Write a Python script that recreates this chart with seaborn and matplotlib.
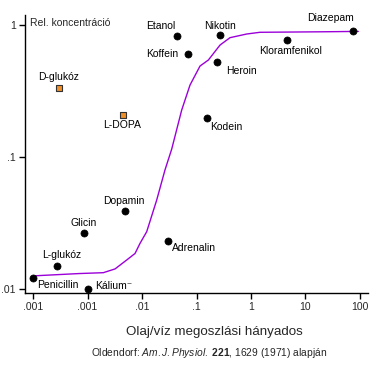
import matplotlib
matplotlib.use("Agg")
import matplotlib.pyplot as plt
import seaborn as sns
import pandas as pd

# ---- data ----
names = ["Etanol", "Koffein", "Nikotin", "Diazepam", "Kloramfenikol", "Heroin",
         "Kodein", "Dopamin", "Glicin", "L-glukóz", "Penicillin", "Kálium⁻",
         "Adrenalin", "D-glukóz", "L-DOPA"]
partition = [0.0433, 0.0698, 0.27, 75.4, 4.64, 0.241,
             0.154, 0.00494, 0.000873, 0.000279, 0.0001, 0.001,
             0.0304, 0.000304, 0.00441]
concentration = [0.826, 0.603, 0.835, 0.895, 0.765, 0.525,
                 0.196, 0.039, 0.0266, 0.01486, 0.0122, 0.01,
                 0.0231, 0.333, 0.208]
group = ["passive"] * 13 + ["carrier"] * 2

curve_x = [0.000109, 0.000698, 0.00195, 0.0032, 0.00524, 0.00745, 0.0092, 0.0122,
           0.0186, 0.0264, 0.0351, 0.0535, 0.076, 0.116, 0.165, 0.27, 0.412,
           0.834, 1.46, 21.2, 93.1]
curve_y = [0.0126, 0.0131, 0.0133, 0.0142, 0.0166, 0.0186, 0.0222, 0.0272,
           0.0472, 0.0798, 0.115, 0.227, 0.351, 0.489, 0.543, 0.705, 0.802,
           0.855, 0.881, 0.889, 0.895]

xticks = [0.0001, 0.001, 0.01, 0.1, 1, 10, 100]
xticklabels = [".001", ".001", ".01", ".1", "1", "10", "100"]
yticks = [0.01, 0.1, 1]
yticklabels = [".01", ".1", "1"]

# label offsets in pixels (dx, dy) and alignment
label_pos = {
    "Etanol": (-16, 10, "center"), "Koffein": (-26, 0, "center"),
    "Nikotin": (0, 9, "center"), "Diazepam": (-23, 13, "center"),
    "Kloramfenikol": (3, -11, "center"), "Heroin": (24, -9, "center"),
    "Kodein": (20, -9, "center"), "Dopamin": (-2, 10, "center"),
    "Glicin": (-1, 10, "center"), "L-glukóz": (4, 11, "center"),
    "Penicillin": (25, -7, "center"), "Kálium⁻": (8, 3, "left"),
    "Adrenalin": (26, -7, "center"), "D-glukóz": (-1, 11, "center"),
    "L-DOPA": (-1, -10, "center"),
}

df = pd.DataFrame({"name": names, "x": partition, "y": concentration, "group": group})
curve = pd.DataFrame({"x": curve_x, "y": curve_y})

sns.set_style("white")
plt.rcParams["font.family"] = ["Liberation Sans", "DejaVu Sans"]
plt.rcParams["mathtext.fontset"] = "custom"
plt.rcParams["mathtext.rm"] = "Liberation Sans"
plt.rcParams["mathtext.it"] = "Liberation Sans:italic"
plt.rcParams["mathtext.bf"] = "Liberation Sans:bold"

fig = plt.figure(figsize=(3.88, 3.74), dpi=100)
W, H = 388, 374
ax = fig.add_axes([25 / W, (H - 293) / H, (368 - 25) / W, (293 - 15) / H])

sns.lineplot(data=curve, x="x", y="y", ax=ax, color="#9B00D9", lw=1.0, sort=False)
sns.scatterplot(data=df[df.group == "passive"], x="x", y="y", ax=ax, color="black",
                s=26, edgecolor="black", linewidth=0.5, zorder=5)
sns.scatterplot(data=df[df.group == "carrier"], x="x", y="y", ax=ax, color="#F0902A",
                marker="s", s=17, edgecolor="#333333", linewidth=0.8, zorder=5)

ax.set_xscale("log")
ax.set_yscale("log")
ax.set_xlim(10 ** -4.147, 10 ** 2.147)
ax.set_ylim(10 ** -2.03, 10 ** 0.076)
ax.set_xticks(xticks)
ax.set_xticklabels(xticklabels)
ax.set_yticks(yticks)
ax.set_yticklabels(yticklabels)
ax.minorticks_off()
ax.tick_params(axis="both", which="major", direction="out", length=4.5, width=1,
               color="black", labelsize=7.5, pad=2, bottom=True, left=True)
for s in ["top", "right"]:
    ax.spines[s].set_visible(False)
for s in ["left", "bottom"]:
    ax.spines[s].set_color("black")
    ax.spines[s].set_linewidth(1)
ax.set_xlabel("")
ax.set_ylabel("")

for n, xv, yv in zip(names, partition, concentration):
    dx, dy, ha = label_pos[n]
    ax.annotate(n, (xv, yv), xytext=(dx, dy), textcoords="offset pixels",
                ha=ha, va="center", fontsize=7.5, color="black", zorder=6)

ax.text(5 / 343, 1 - 3 / 278, "Rel. koncentráció", transform=ax.transAxes,
        ha="left", va="top", fontsize=7.5)

fig.text(214.7 / W, 1 - 332 / H, "Olaj/víz megoszlási hányados", ha="center",
         va="center", fontsize=9.6)
fig.text(208.7 / W, 1 - 353 / H,
         r"Oldendorf: $\it{Am.J.Physiol.}$ $\bf{221}$, 1629 (1971) alapján",
         ha="center", va="center", fontsize=7.4)

fig.savefig("out.png", dpi=100)
